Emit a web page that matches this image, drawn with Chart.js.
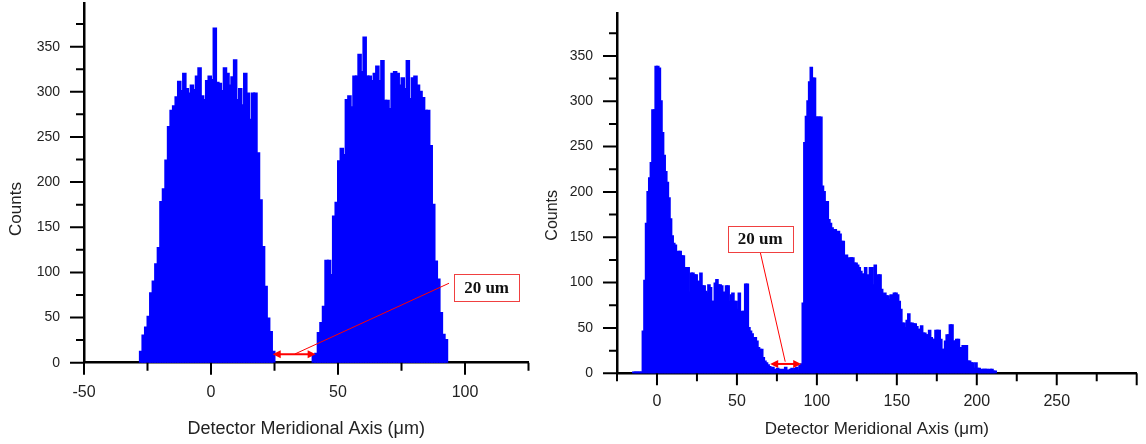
<!DOCTYPE html>
<html lang="en">
<head>
<meta charset="utf-8" />
<title>Detector Meridional Axis histograms</title>
<script src="https://cdn.jsdelivr.net/npm/chart.js"></script>
<style>
  html, body { margin: 0; padding: 0; background: #fff; }
  #wrap { position: relative; width: 1146px; height: 444px; overflow: hidden; }
  canvas { position: absolute; top: 0; }
  #leftChart { left: 0; }
  #rightChart { left: 540px; }
</style>
</head>
<body>
<div id="wrap">
  <canvas id="leftChart" width="540" height="444"></canvas>
  <canvas id="rightChart" width="606" height="444"></canvas>
</div>
<script>
// ---- data (counts per 1 um bin) ----
const binWidth = 1;

// left panel: two separated spots
const leftPeakAStart = -28;
const leftPeakA = [12, 30, 39, 51, 77, 90, 109, 127, 178, 192,
                   224, 261, 279, 284, 294, 311, 301, 320, 303, 298,
                   307, 302, 317, 326, 295, 291, 312, 317, 313, 370,
                   310, 309, 301, 326, 320, 307, 316, 335, 291, 303,
                   285, 320, 298, 269, 298, 298, 232, 180, 128, 84,
                   49, 34, 12];
const leftPeakBStart = 40;
const leftPeakB = [8, 10, 33, 44, 62, 113, 113, 97, 162, 177,
                   223, 237, 230, 291, 295, 283, 317, 317, 341, 322,
                   360, 317, 317, 312, 320, 328, 312, 334, 290, 290,
                   281, 320, 322, 320, 307, 315, 303, 334, 292, 315,
                   317, 307, 300, 293, 279, 279, 240, 175, 112, 92,
                   55, 31, 25];

// right panel: one contiguous run of bins starting at -15
const rightStart = -15;
const rightCounts = [1, 1, 1, 1, 1, 1,
                     46, 102, 165, 200, 215, 232, 290, 290, 338, 338,
                     336, 300, 265, 240, 222, 210, 193, 170, 151, 143,
                     141, 128, 134, 134, 129, 129, 116, 116, 116, 89,
                     110, 110, 108, 108, 101, 101, 110, 96, 96, 90,
                     88, 97, 94, 79, 79, 99, 103, 97, 97, 96,
                     89, 86, 96, 96, 79, 86, 88, 79, 79, 70,
                     88, 66, 68, 68, 98, 98, 50, 46, 43, 39,
                     39, 35, 28, 26, 26, 17, 13, 11, 9, 7,
                     5, 6, 4, 3, 5, 4, 2, 4, 3, 6,
                     3, 2, 4, 5, 3, 5, 6, 3, 8, 10,
                     77, 254, 283, 300, 321, 337, 325, 325, 282, 282,
                     282, 282, 206, 200, 189, 189, 169, 165, 160, 158,
                     158, 153, 156, 153, 145, 145, 127, 130, 122, 127,
                     127, 127, 121, 121, 119, 116, 112, 109, 109, 116,
                     108, 101, 116, 116, 97, 119, 97, 108, 108, 92,
                     86, 88, 85, 85, 81, 86, 80, 88, 88, 86,
                     79, 70, 55, 55, 50, 58, 65, 55, 55, 54,
                     54, 51, 48, 48, 52, 44, 44, 42, 42, 47,
                     39, 37, 37, 47, 47, 47, 37, 26, 26, 35,
                     42, 42, 53, 53, 35, 35, 37, 37, 28, 28,
                     30, 30, 30, 13, 13, 11, 11, 5, 11, 5,
                     5, 2, 4, 4, 4, 4, 2, 4, 4, 2, 2];

// tick labels
const leftXTicks = [-50, 0, 50, 100];
const rightXTicks = [0, 50, 100, 150, 200, 250];
const yTicks = [0, 50, 100, 150, 200, 250, 300, 350];

const xTitle = 'Detector Meridional Axis (\u03bcm)';
const yTitle = 'Counts';
const gapText = '20 um';

function toPoints(start, counts) {
    return counts.map((c, i) => ({ x: start + i * binWidth + binWidth / 2, y: c }));
}

const SANS = "'Liberation Sans', Arial, sans-serif";
const BLUE = '#0000ff';
const RED = '#ff0000';

// major/minor tick marks drawn outward from both axes
const tickMarks = {
    id: 'tickMarks',
    afterDraw(chart, args, o) {
        const { ctx, scales: { x, y }, chartArea } = chart;
        ctx.save();
        ctx.strokeStyle = '#000';
        ctx.lineWidth = 2;
        ctx.beginPath();
        for (let v = x.min; v <= x.max + 0.001; v += o.minorX) {
            const px = x.getPixelForValue(v);
            const len = Math.abs(v % o.majorX) < 0.001 ? 12 : 8;
            ctx.moveTo(px, chartArea.bottom);
            ctx.lineTo(px, chartArea.bottom + len);
        }
        for (let v = 0; v <= y.max; v += 25) {
            const py = y.getPixelForValue(v);
            const len = v % 50 === 0 ? 14 : 8;
            ctx.moveTo(chartArea.left, py);
            ctx.lineTo(chartArea.left - len, py);
        }
        ctx.stroke();
        ctx.restore();
    }
};

// rotated y title, placed a bit below the middle like the original
const sideTitle = {
    id: 'sideTitle',
    afterDraw(chart, args, o) {
        const { ctx, chartArea } = chart;
        ctx.save();
        ctx.translate(chartArea.left + o.dx, (chartArea.top + chartArea.bottom) / 2 + o.dy);
        ctx.rotate(-Math.PI / 2);
        ctx.font = o.size + 'px ' + SANS;
        ctx.fillStyle = '#222';
        ctx.textAlign = 'center';
        ctx.textBaseline = 'middle';
        ctx.fillText(yTitle, 0, 0);
        ctx.restore();
    }
};

// red double arrow across the gap, leader line and labelled box
const gapNote = {
    id: 'gapNote',
    afterDraw(chart, args, o) {
        const { ctx, scales: { x, y } } = chart;
        const ax0 = x.getPixelForValue(o.arrow[0]), ax1 = x.getPixelForValue(o.arrow[1]);
        const ay = y.getPixelForValue(o.arrow[2]);
        ctx.save();
        ctx.strokeStyle = RED;
        ctx.fillStyle = RED;
        // leader
        ctx.lineWidth = 1;
        ctx.beginPath();
        ctx.moveTo(x.getPixelForValue(o.leader[0]), y.getPixelForValue(o.leader[1]));
        ctx.lineTo(x.getPixelForValue(o.leader[2]), y.getPixelForValue(o.leader[3]));
        ctx.stroke();
        // double arrow
        ctx.lineWidth = 2;
        ctx.beginPath();
        ctx.moveTo(ax0 + 5, ay);
        ctx.lineTo(ax1 - 5, ay);
        ctx.stroke();
        ctx.beginPath();
        ctx.moveTo(ax0, ay); ctx.lineTo(ax0 + 8, ay - 4); ctx.lineTo(ax0 + 8, ay + 4); ctx.closePath();
        ctx.moveTo(ax1, ay); ctx.lineTo(ax1 - 8, ay - 4); ctx.lineTo(ax1 - 8, ay + 4); ctx.closePath();
        ctx.fill();
        // box
        const bx0 = x.getPixelForValue(o.box[0]), bx1 = x.getPixelForValue(o.box[1]);
        const by0 = y.getPixelForValue(o.box[3]), by1 = y.getPixelForValue(o.box[2]);
        ctx.fillStyle = '#fff';
        ctx.fillRect(bx0, by0, bx1 - bx0, by1 - by0);
        ctx.lineWidth = 1;
        ctx.strokeStyle = '#f04040';
        ctx.strokeRect(Math.round(bx0) + 0.5, Math.round(by0) + 0.5, Math.round(bx1 - bx0), Math.round(by1 - by0));
        ctx.fillStyle = '#111';
        ctx.font = "bold 17px 'Liberation Serif', 'Times New Roman', serif";
        ctx.textAlign = 'center';
        ctx.textBaseline = 'middle';
        ctx.fillText(gapText, (bx0 + bx1) / 2, (by0 + by1) / 2 + 1);
        ctx.restore();
    }
};

function histChart(id, cfg) {
    const ctx = document.getElementById(id).getContext('2d');
    return new Chart(ctx, {
        type: 'bar',
        data: {
            datasets: [{
                data: cfg.points,
                backgroundColor: BLUE,
                borderWidth: 0,
                inflateAmount: 1,
                barPercentage: 1,
                categoryPercentage: 1
            }]
        },
        options: {
            responsive: false,
            animation: false,
            devicePixelRatio: 1,
            layout: { padding: cfg.padding },
            plugins: {
                legend: { display: false },
                tooltip: { enabled: false },
                tickMarks: { minorX: 25, majorX: 50 },
                sideTitle: cfg.sideTitle,
                gapNote: cfg.note
            },
            scales: {
                x: {
                    type: 'linear',
                    min: cfg.xMin,
                    max: cfg.xMax,
                    offset: false,
                    grid: { display: false, drawTicks: false },
                    border: { display: true, color: '#000', width: 2.5 },
                    ticks: {
                        padding: cfg.xTickPad,
                        color: '#222',
                        font: { family: SANS, size: 16 },
                        maxRotation: 0,
                        callback: v => String(v)
                    },
                    title: {
                        display: true,
                        text: xTitle,
                        color: '#222',
                        font: { family: SANS, size: cfg.xTitleSize },
                        padding: { top: 0, bottom: cfg.xTitlePad }
                    },
                    afterBuildTicks: s => { s.ticks = cfg.xTicks.map(v => ({ value: v })); },
                    afterFit: s => { s.height = cfg.xHeight; s.paddingLeft = 0; s.paddingRight = 0; }
                },
                y: {
                    min: 0,
                    max: cfg.yMax,
                    grid: { display: false, drawTicks: false },
                    border: { display: true, color: '#000', width: 2.5 },
                    ticks: {
                        padding: 24,
                        color: '#222',
                        font: { family: SANS, size: 14 },
                        callback: v => String(v)
                    },
                    afterBuildTicks: s => { s.ticks = yTicks.map(v => ({ value: v })); },
                    afterFit: s => { s.width = cfg.yWidth; s.paddingTop = 0; s.paddingBottom = 0; }
                }
            }
        },
        plugins: [tickMarks, sideTitle, gapNote]
    });
}

histChart('leftChart', {
    points: toPoints(leftPeakAStart, leftPeakA).concat(toPoints(leftPeakBStart, leftPeakB)),
    padding: { left: 0, top: 3.3, right: 11.5, bottom: 0 },
    xMin: -50, xMax: 125, yMax: 398,
    xTicks: leftXTicks,
    xTickPad: 20, xTitleSize: 18, xTitlePad: 4,
    xHeight: 81.3, yWidth: 84,
    sideTitle: { dx: -68, dy: 26, size: 17 },
    note: { arrow: [24.3, 41.2, 9.3], leader: [33, 9.6, 93.7, 88], box: [95.7, 121.3, 67.6, 98] }
});

histChart('rightChart', {
    points: toPoints(rightStart, rightCounts),
    padding: { left: 0, top: 13.3, right: 9.3, bottom: 0 },
    xMin: -25, xMax: 300, yMax: 397,
    xTicks: rightXTicks,
    xTickPad: 19, xTitleSize: 17, xTitlePad: 4.5,
    xHeight: 70.7, yWidth: 77,
    sideTitle: { dx: -64, dy: 22, size: 16 },
    note: { arrow: [70.8, 90.2, 10.3], leader: [80.2, 12.8, 64.6, 133.5], box: [44.4, 84.8, 133.5, 162.5] }
});
</script>
</body>
</html>
